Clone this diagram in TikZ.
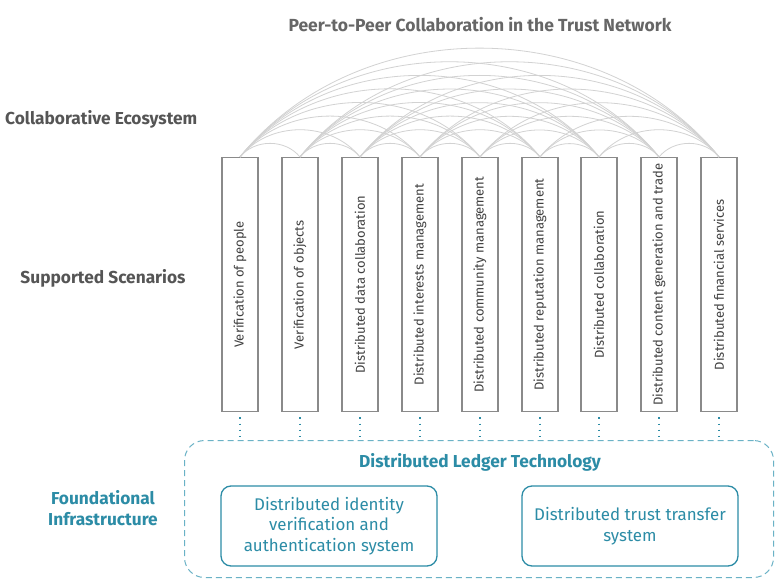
\documentclass[tikz,border=0pt]{standalone}
\usepackage{fontspec}
\setmainfont{Fira Sans}
\usetikzlibrary{calc}
\definecolor{txtgray}{HTML}{555555}
\definecolor{boxgray}{HTML}{8A8A8A}
\definecolor{arcgray}{HTML}{D2D2D2}
\definecolor{teal}{HTML}{2C8CA6}
\definecolor{tealdash}{HTML}{6AB2C6}
\tikzset{
  lbl/.style={font=\bfseries\fontsize{17.3}{19}\selectfont, text=txtgray, inner sep=0pt},
  scen/.style={draw=boxgray, line width=1.3pt, minimum width=36pt, minimum height=254pt, inner sep=0pt,
    anchor=north},
  scentext/.style={rotate=90, font=\fontsize{13}{15}\selectfont, text=black!75, inner sep=0pt},
  arc/.style={draw=arcgray, line width=0.8pt},
  dotl/.style={draw=teal, line width=1.2pt, dash pattern=on 1.2pt off 5pt},
  sysbox/.style={draw=teal, line width=1.3pt, rounded corners=10pt, minimum width=216pt, minimum height=80pt,
    align=center, text=teal, font=\fontsize{16.9}{20.5}\selectfont, inner sep=0pt}
}
\begin{document}
\begin{tikzpicture}[x=1pt,y=-1pt]
\useasboundingbox[fill=white] (0,0) rectangle (782,586);
\node[lbl, font=\fontsize{17.5}{19}\selectfont\bfseries, text=txtgray!90] (title) at (480,25) {Peer-to-Peer Collaboration in the Trust Network};
\node[lbl, anchor=west] (eco) at (5,119) {Collaborative Ecosystem};
\node[lbl] (sup) at (103,278) {Supported Scenarios};
\node[lbl, text=teal, align=center, font=\bfseries\fontsize{17.3}{21}\selectfont] (found) at (103,508) {Foundational\\Infrastructure};
% container
\node[draw=tealdash, line width=1pt, dash pattern=on 6pt off 4pt, rounded corners=20pt,
  minimum width=589pt, minimum height=137pt, anchor=north west, inner sep=0pt] (dlt) at (184,440) {};
\node[lbl, text=teal] (dltlabel) at (480,462) {Distributed Ledger Technology};
\node[sysbox] (ident) at (329,526) {Distributed identity\\verification and\\authentication system};
\node[sysbox] (trust) at (630,526) {Distributed trust transfer\\system};
% scenario boxes
\foreach \i/\x/\t in {1/240/Verification of people,
  2/300/Verification of objects,
  3/360/Distributed data collaboration,
  4/420/Distributed interests management,
  5/480/Distributed community management,
  6/540/Distributed reputation management,
  7/599/Distributed collaboration,
  8/659/Distributed content generation and trade,
  9/719/Distributed financial services}{
  \node[scen] (s\i) at (\x,157) {};
  \node[scentext] (t\i) at (s\i.center) {\t};
  \coordinate (d\i) at ($(s\i.south)+(0,5)$);
  \draw[dotl] (d\i) -- (d\i |- dlt.north);
}
% arcs
\foreach \i in {1,...,8}{
  \pgfmathtruncatemacro{\ni}{\i+1}
  \foreach \j in {\ni,...,9}{
    \draw[arc] (s\i.north) to[bend left=51] (s\j.north);
  }
}
\end{tikzpicture}
\end{document}
